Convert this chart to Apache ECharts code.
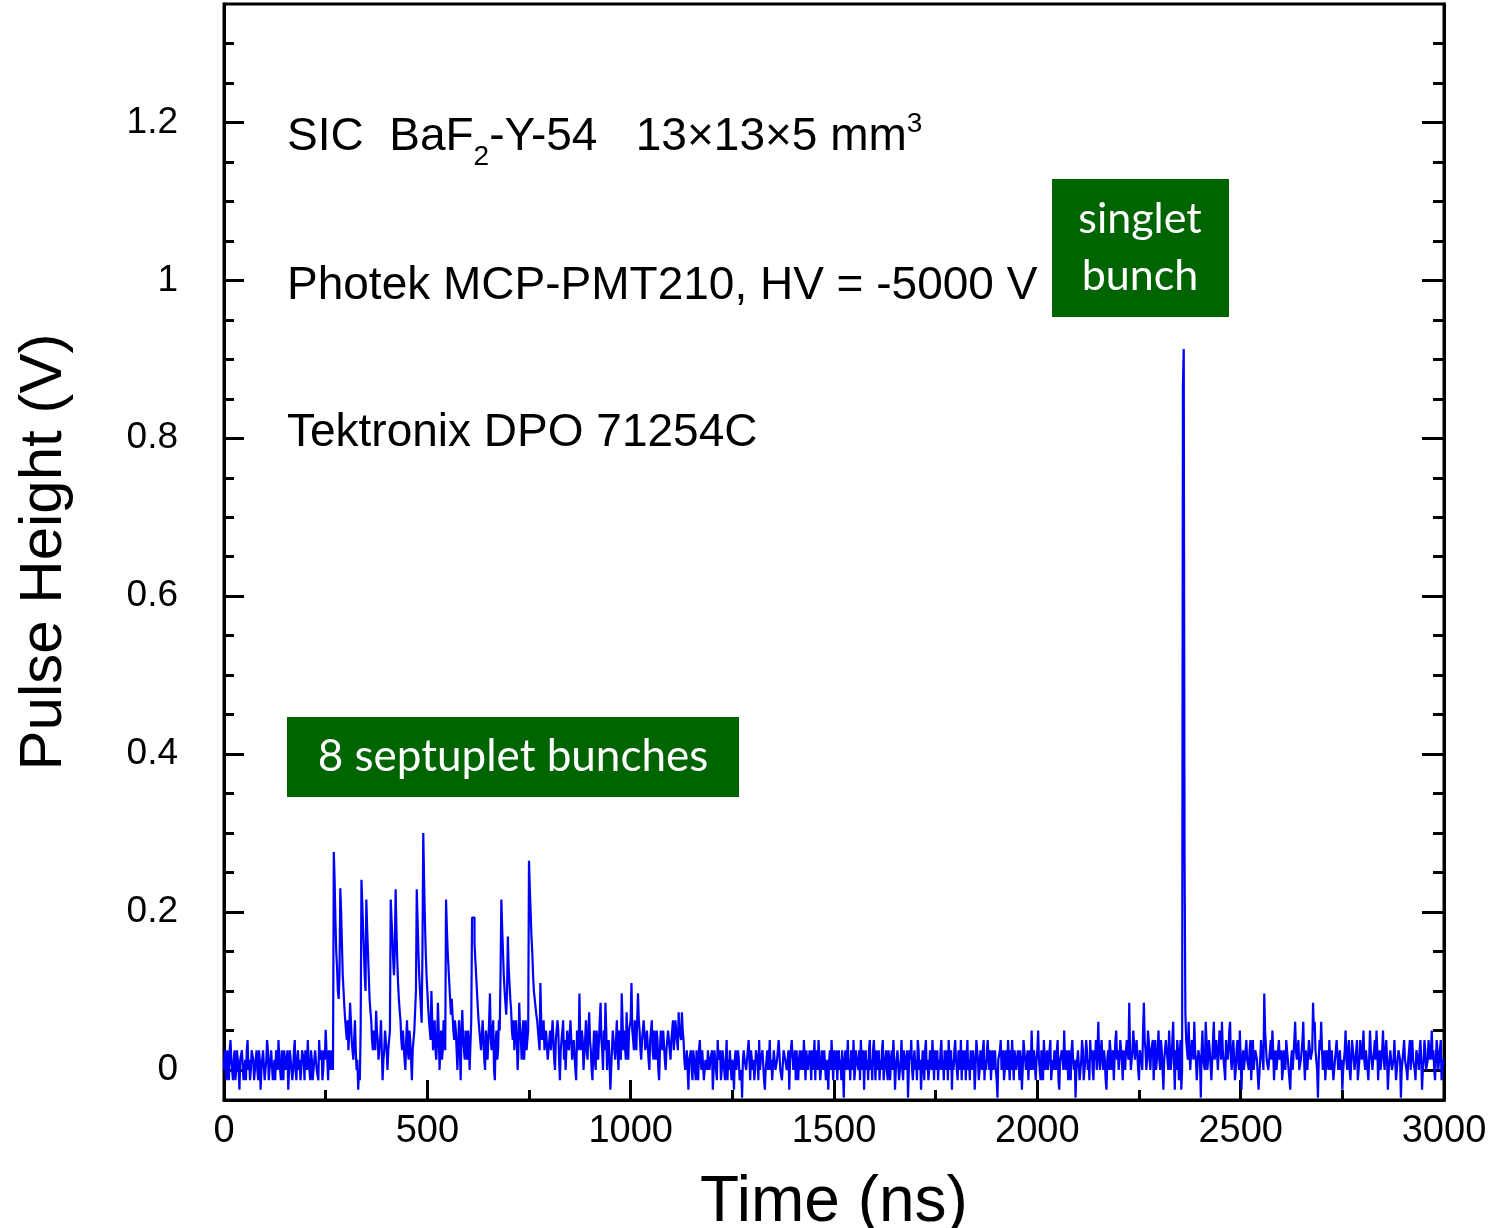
<!DOCTYPE html>
<html><head><meta charset="utf-8">
<script src="https://cdn.jsdelivr.net/npm/echarts@6/dist/echarts.min.js"></script>
<style>html,body{margin:0;padding:0;background:#fff}#chart{width:1507px;height:1228px}</style>
</head><body><div id="chart"></div>
<script>
// Oscilloscope trace, one sample every 2 ns (values in V), rows of 40 ns
const sampleStepNs = 2;
const segmentStartNs = [0, 1000, 2000];
const pulse0to998 = [
0.013,0.000,0.025,0.013,-0.013,0.025,0.000,-0.013,0.025,0.038,0.013,0.000,-0.013,0.013,0.025,-0.013,0.000,0.025,0.013,0.000,
-0.025,0.013,0.013,0.025,0.025,-0.013,0.000,0.013,-0.013,0.025,0.038,0.000,0.013,-0.013,0.000,0.025,0.025,0.013,-0.013,0.000,
0.013,0.025,0.000,-0.013,0.025,0.013,-0.025,0.000,0.013,0.025,0.025,-0.013,0.000,0.013,0.038,0.025,-0.013,0.000,0.013,0.025,
0.025,-0.013,0.000,0.013,-0.013,0.025,0.013,0.000,0.038,0.013,0.000,-0.013,0.025,0.000,-0.013,0.025,0.013,0.000,0.000,0.025,
-0.025,0.000,0.025,0.013,0.013,-0.013,0.000,0.025,0.038,0.000,-0.013,0.013,0.025,0.000,0.013,-0.013,0.000,0.025,0.025,0.013,
-0.013,0.025,0.013,0.000,0.038,0.013,0.000,-0.013,0.025,0.013,-0.013,0.000,0.013,0.025,0.025,0.000,0.000,-0.013,0.038,0.013,
0.013,0.025,-0.013,0.000,0.025,0.013,0.051,0.025,0.013,-0.013,0.025,0.013,0.000,0.025,0.013,0.000,0.276,0.240,0.190,0.150,
0.130,0.100,0.090,0.120,0.230,0.200,0.160,0.120,0.100,0.080,0.063,0.050,0.038,0.063,0.025,0.050,0.085,0.063,0.038,0.025,
0.013,0.038,0.063,0.025,0.000,0.013,-0.025,0.000,-0.013,0.050,0.241,0.210,0.180,0.150,0.120,0.100,0.216,0.180,0.150,0.120,
0.090,0.075,0.063,0.038,0.025,0.050,0.050,0.025,0.075,0.050,0.038,0.013,0.013,0.038,0.063,0.025,-0.013,0.013,0.025,0.050,
0.050,0.025,0.000,0.025,0.025,0.050,0.216,0.190,0.170,0.140,0.120,0.150,0.229,0.180,0.140,0.110,0.090,0.075,0.063,0.038,
0.025,0.050,0.050,0.013,0.000,0.038,0.063,0.025,0.013,0.050,0.038,0.013,-0.013,0.025,0.025,0.050,0.050,0.100,0.229,0.190,
0.150,0.120,0.100,0.080,0.060,0.150,0.300,0.240,0.190,0.150,0.120,0.100,0.080,0.063,0.050,0.038,0.100,0.063,0.025,0.050,
0.063,0.025,0.013,0.038,0.085,0.050,0.000,0.025,0.050,0.013,0.025,0.063,0.063,0.025,0.216,0.180,0.150,0.130,0.110,0.090,
0.070,0.090,0.090,0.050,0.038,0.063,0.050,0.025,0.000,0.038,0.063,0.025,-0.013,0.050,0.076,0.038,0.025,0.013,0.050,0.038,
0.013,0.050,0.038,0.000,0.000,0.063,0.193,0.193,0.193,0.160,0.140,0.120,0.100,0.080,0.063,0.050,0.050,0.025,0.025,0.063,
0.063,0.013,0.000,0.050,0.038,0.013,0.013,0.063,0.097,0.038,0.025,0.050,0.063,0.000,-0.013,0.038,0.050,0.013,0.025,0.063,
0.050,0.120,0.216,0.180,0.150,0.120,0.100,0.085,0.070,0.100,0.169,0.130,0.110,0.090,0.076,0.050,0.038,0.063,0.025,0.050,
0.063,0.038,0.000,0.025,0.085,0.050,0.038,0.013,0.050,0.063,0.013,0.038,0.063,0.025,0.038,0.050,0.265,0.230,0.200,0.170,
0.150,0.120,0.100,0.090,0.080,0.070,0.063,0.050,0.050,0.025,0.110,0.063,0.038,0.050,0.063,0.025,0.025,0.050,0.050,0.013,
0.013,0.038,0.050,0.025,0.025,0.063,0.063,0.013,0.000,0.038,0.038,0.063,0.050,0.013,-0.013,0.025,0.025,0.050,0.063,0.013,
0.038,0.000,0.000,0.050,0.050,0.025,0.025,0.063,0.063,0.013,0.013,0.038,0.038,0.000,-0.013,0.050,0.050,0.025,0.097,0.038,
0.025,0.050,0.038,0.000,0.000,0.038,0.063,0.025,0.013,0.050,0.073,0.038,0.025,0.000,-0.013,0.025,0.050,0.013,0.000,0.050,
0.038,0.013,0.013,0.063,0.085,0.038,0.025,0.000,0.050,0.025,0.085,0.050,0.000,0.025,0.038,0.013,-0.025,0.000,0.025,0.050,
0.050,0.025,0.013,0.038,0.063,0.025,0.000,0.050,0.038,0.013,0.097,0.063,0.025,0.050,0.050,0.013,0.073,0.038,0.013,0.050
];
const pulse1000to1998 = [
0.050,0.063,0.110,0.050,0.038,0.025,0.063,0.050,0.025,0.063,0.097,0.063,0.050,0.025,0.013,0.038,0.038,0.063,0.063,0.025,
0.025,0.050,0.050,0.013,0.000,0.038,0.038,0.063,0.025,0.013,0.050,0.025,0.013,0.050,0.038,0.000,-0.013,0.025,0.050,0.038,
0.025,0.050,0.050,0.013,0.000,0.025,0.038,0.050,0.050,0.025,0.013,0.038,0.050,0.063,0.025,0.038,0.063,0.050,0.038,0.025,
0.073,0.050,0.050,0.038,0.073,0.050,0.038,0.013,0.000,0.013,0.025,0.000,-0.025,0.013,0.013,0.025,0.000,-0.013,0.025,0.013,
0.013,-0.013,0.025,0.000,-0.013,0.025,0.038,0.013,0.000,0.025,0.025,-0.013,-0.013,0.013,0.013,0.000,0.025,0.025,0.000,0.013,
0.013,0.025,-0.025,0.000,0.025,0.013,0.000,-0.013,0.038,0.013,0.013,0.025,-0.013,0.000,0.025,0.025,0.000,-0.013,0.013,0.038,
-0.013,0.013,0.000,0.025,0.025,-0.013,0.013,0.000,-0.025,0.013,0.025,0.000,0.000,0.025,0.013,-0.013,-0.013,0.000,-0.035,0.013,
0.025,0.013,0.013,0.000,0.000,0.025,0.038,0.013,-0.013,0.025,0.025,0.000,0.013,-0.013,0.000,0.025,0.025,0.013,-0.013,0.038,
0.000,0.013,0.013,0.025,0.025,-0.013,-0.025,0.000,0.013,0.025,0.000,0.013,0.038,0.000,0.013,-0.013,-0.013,0.025,0.025,0.000,
0.000,0.013,0.013,0.038,0.038,0.000,0.000,-0.013,-0.013,0.025,0.025,0.013,0.013,0.000,0.000,0.025,-0.025,0.013,0.013,0.038,
0.038,0.000,0.013,0.025,-0.013,0.025,0.000,-0.013,0.013,0.025,0.000,0.013,0.025,0.000,0.038,0.013,-0.013,0.025,0.013,0.000,
0.000,0.025,0.013,-0.013,0.025,0.000,0.013,0.038,-0.013,0.025,0.013,0.000,0.038,0.013,-0.013,0.000,0.025,0.013,0.000,0.025,
0.025,-0.013,0.013,0.000,-0.025,0.013,0.025,0.000,0.038,0.013,-0.013,0.025,0.013,0.000,0.025,-0.013,0.013,0.025,0.000,0.013,
-0.013,0.025,0.000,-0.035,0.013,0.025,0.000,0.013,0.038,0.000,0.013,-0.013,0.025,0.013,0.000,0.038,-0.013,0.000,0.025,0.013,
0.013,0.000,0.025,-0.013,0.038,0.013,0.000,0.025,-0.025,0.013,0.025,0.000,0.013,-0.013,0.025,0.038,0.000,0.013,-0.013,0.025,
0.038,0.013,-0.013,0.025,0.000,0.013,0.025,-0.013,0.013,0.000,0.025,0.038,-0.013,0.000,0.013,0.025,0.000,-0.013,0.025,0.013,
-0.013,0.013,0.025,0.000,0.038,0.013,-0.025,0.000,0.013,0.025,0.025,-0.013,0.000,0.013,0.038,0.000,-0.013,0.025,0.013,0.000,
0.013,0.025,-0.035,0.000,0.025,0.013,0.038,0.000,-0.013,0.013,0.025,0.000,0.013,-0.013,0.038,0.025,0.000,0.013,-0.025,0.000,
0.025,0.013,-0.013,0.025,0.038,0.000,0.013,-0.013,0.000,0.025,0.013,0.000,0.038,0.013,-0.013,0.025,0.000,0.013,0.025,-0.013,
0.013,0.000,0.025,0.038,0.000,0.013,-0.013,0.025,0.013,0.000,0.025,-0.013,0.038,0.013,0.000,0.025,-0.025,0.013,0.000,0.025,
0.038,0.013,0.000,-0.013,0.025,0.013,0.000,0.038,-0.013,0.025,0.013,0.000,0.025,-0.013,0.013,0.038,0.000,0.013,-0.013,0.025,
0.013,0.000,0.025,0.013,-0.025,0.000,0.038,0.025,0.013,-0.013,0.000,0.025,0.013,0.000,0.025,0.038,-0.013,0.013,0.000,0.025,
0.038,0.013,0.000,0.025,-0.013,0.013,0.025,0.000,0.013,0.025,0.000,-0.013,-0.035,0.013,0.013,0.025,0.038,0.000,0.013,0.025,
-0.013,0.000,0.025,0.013,0.000,0.038,0.013,-0.013,0.025,0.000,0.038,0.013,-0.013,0.025,0.013,0.000,0.000,0.025,0.013,-0.013,
0.025,0.013,-0.025,0.000,0.038,0.025,0.013,0.000,0.000,0.025,-0.013,0.013,0.025,0.000,0.050,0.013,0.000,0.025,0.025,-0.013
];
const pulse2000to3000 = [
0.013,0.025,0.050,0.013,0.000,-0.013,0.025,0.000,-0.013,0.038,0.038,0.000,0.013,0.025,0.000,0.013,0.025,0.038,-0.013,0.000,
0.013,0.000,0.025,0.013,0.000,0.025,0.038,-0.013,-0.025,0.013,0.013,0.025,0.025,0.000,0.050,0.013,0.000,0.025,0.013,-0.013,
0.025,0.000,-0.013,0.025,0.038,0.013,0.000,0.013,-0.035,0.000,0.013,0.025,0.025,-0.013,0.000,0.013,0.038,0.025,-0.013,0.000,
0.013,0.038,0.025,0.000,0.013,-0.013,0.038,0.013,0.025,0.000,-0.013,0.025,0.013,0.038,0.000,0.025,0.061,0.013,0.000,0.025,
0.038,0.013,0.000,0.025,0.013,-0.013,-0.025,0.013,0.025,0.000,0.038,0.025,0.000,0.013,0.025,-0.013,0.013,0.038,0.050,0.013,
0.025,0.000,0.013,0.038,0.038,0.013,-0.013,0.025,0.013,0.000,0.025,0.038,0.038,0.013,0.085,0.025,0.000,0.013,0.025,0.050,
0.050,0.013,0.013,0.038,0.038,0.000,-0.013,0.025,0.025,0.013,0.000,0.050,0.085,0.038,0.025,0.000,0.013,0.050,0.038,0.013,
0.000,0.025,0.025,0.038,-0.013,0.013,0.038,0.000,0.013,0.025,0.050,0.013,0.000,0.038,0.025,0.000,-0.025,0.013,0.013,0.038,
0.038,0.013,0.000,0.050,0.025,0.000,0.013,0.038,0.061,0.013,-0.025,0.025,0.000,0.038,0.025,-0.013,0.013,0.038,-0.025,0.000,
0.867,0.913,0.270,0.073,0.038,0.025,0.013,0.061,0.025,0.000,0.000,0.038,0.038,0.013,0.061,0.025,0.013,-0.013,-0.013,0.025,
0.025,0.013,-0.035,0.025,0.050,0.013,0.013,0.000,0.061,0.038,0.000,0.013,0.038,0.025,0.025,-0.013,-0.013,0.038,0.061,0.013,
0.013,0.038,0.038,0.000,0.000,0.050,0.050,0.013,0.061,0.025,0.013,0.000,-0.013,0.038,0.038,0.013,0.025,0.050,0.061,0.013,
0.000,0.025,0.038,0.013,-0.013,0.000,0.025,0.038,0.013,0.000,0.050,0.013,-0.025,0.013,0.025,0.000,0.000,0.025,0.038,0.013,
0.013,0.000,0.025,0.038,-0.013,0.013,0.038,0.000,0.000,0.025,0.025,0.013,0.013,-0.025,-0.025,0.013,0.038,0.025,0.013,0.000,
0.097,0.050,0.050,0.013,0.013,0.000,0.000,0.025,0.038,0.013,0.050,0.025,-0.013,0.013,0.025,0.000,0.000,0.025,0.038,0.013,
0.013,0.025,-0.013,0.000,0.025,0.013,0.000,0.038,0.038,0.013,0.013,-0.013,-0.025,0.013,0.025,0.000,0.000,0.038,0.061,0.025,
0.013,0.025,0.038,0.000,0.000,0.013,0.025,0.038,0.061,0.013,-0.013,0.025,0.025,0.000,0.000,0.038,0.038,0.013,0.013,0.025,
0.085,0.050,0.061,0.025,0.025,0.000,-0.035,0.013,0.038,0.025,0.061,0.025,0.000,0.013,0.025,-0.013,-0.013,0.025,0.013,0.000,
0.038,0.013,0.000,0.025,0.025,-0.013,-0.013,0.013,0.013,0.038,0.038,0.000,0.013,0.025,0.000,0.013,-0.025,0.000,0.013,0.025,
0.050,0.013,0.000,0.025,0.038,0.000,-0.013,0.013,0.038,0.025,0.013,0.000,0.000,0.025,0.038,-0.013,-0.013,0.013,0.038,0.025,
0.013,0.025,0.050,0.013,0.000,0.025,0.025,0.000,-0.013,0.013,0.050,0.025,0.013,0.000,0.000,0.025,0.038,0.013,0.050,0.025,
-0.013,0.013,0.025,0.000,0.013,0.025,0.050,0.013,0.000,0.025,0.038,0.013,-0.025,0.000,0.013,0.025,0.025,0.000,0.000,0.013,
0.038,0.013,-0.013,0.000,0.013,0.025,0.025,0.013,-0.035,0.000,0.000,0.025,0.038,0.013,0.013,0.000,-0.013,0.013,0.025,0.038,
0.000,0.025,0.038,0.013,0.013,0.000,-0.013,0.025,0.025,0.013,0.000,0.025,0.038,0.013,-0.025,0.000,0.013,0.038,0.025,0.000,
0.000,0.013,0.038,0.025,0.013,0.025,0.050,0.013,0.025,0.000,-0.013,0.013,0.038,0.025,0.000,0.013,0.025,0.038,-0.013,0.000,
0.013
];

// Axes
const xMin = 0, xMax = 3000, xInterval = 500;
const yMin = -0.038, yMax = 1.35;
const yMajorTicks = [0, 0.2, 0.4, 0.6, 0.8, 1, 1.2];
const yMinorTicks = [0.05,0.1,0.15,0.25,0.3,0.35,0.45,0.5,0.55,0.65,0.7,0.75,0.85,0.9,0.95,1.05,1.1,1.15,1.25,1.3];

// Texts
const xTitle = 'Time (ns)';
const yTitle = 'Pulse Height (V)';
const note1 = 'SIC  BaF{sub|2}-Y-54   13×13×5 mm{sup|3}';
const note2 = 'Photek MCP-PMT210, HV = -5000 V';
const note3 = 'Tektronix DPO 71254C';
const boxSeptuplet = '8 septuplet bunches';
const boxSinglet = 'singlet\nbunch';

const segments = [pulse0to998, pulse1000to1998, pulse2000to3000];
const traceData = [];
segments.forEach((seg, s) => seg.forEach((v, i) => traceData.push([segmentStartNs[s] + i * sampleStepNs, v])));

const AX_FONT = "'Liberation Sans',Arial,sans-serif";
const BOX_FONT = "Lato,'Open Sans',sans-serif";

function yAx(pos, ticks, len, showLabel, withName) {
  const a = {
    type: 'value', position: pos, min: yMin, max: yMax,
    axisLine: { show: true, onZero: false, lineStyle: { color: '#000', width: 3 } },
    axisTick: { show: true, inside: true, length: len, customValues: ticks, lineStyle: { color: '#000', width: 3 } },
    axisLabel: { show: showLabel, customValues: ticks, margin: 46, fontSize: 37, color: '#000', fontFamily: AX_FONT,
      formatter: v => String(v) },
    splitLine: { show: false }
  };
  if (withName) {
    Object.assign(a, { name: yTitle, nameLocation: 'middle', nameGap: 150, nameRotate: 90,
      nameTextStyle: { fontSize: 60, color: '#000', fontFamily: AX_FONT } });
  }
  return a;
}

const chart = echarts.init(document.getElementById('chart'), null, { renderer: 'canvas' });
chart.setOption({
  animation: false,
  backgroundColor: '#fff',
  grid: { left: 224, right: 63, top: 4, bottom: 128, containLabel: false, outerBoundsMode: 'none',
    show: true, borderColor: '#000', borderWidth: 3, backgroundColor: 'transparent' },
  xAxis: {
    type: 'value', min: xMin, max: xMax, interval: xInterval, position: 'bottom',
    axisLine: { show: true, onZero: false, lineStyle: { color: '#000', width: 3 } },
    axisTick: { show: true, inside: true, length: 20, lineStyle: { color: '#000', width: 3 } },
    minorTick: { show: true, splitNumber: 2, length: 10, lineStyle: { color: '#000', width: 3 } },
    axisLabel: { margin: 13, fontSize: 38, color: '#000', fontFamily: AX_FONT, formatter: v => String(v) },
    splitLine: { show: false },
    name: xTitle, nameLocation: 'middle', nameGap: 71,
    nameTextStyle: { fontSize: 64, color: '#000', fontFamily: AX_FONT }
  },
  yAxis: [
    yAx('left', yMajorTicks, 20, true, true),
    yAx('left', yMinorTicks, 10, false, false),
    yAx('right', yMajorTicks, 22, false, false),
    yAx('right', yMinorTicks, 11, false, false)
  ],
  series: [{
    type: 'line', data: traceData, yAxisIndex: 0, showSymbol: false, step: 'start',
    sampling: false, lineStyle: { color: '#0000ff', width: 2.2 }, z: 1
  }],
  graphic: [
    { type: 'text', x: 287, y: 137, style: { text: note1, fill: '#000', fontSize: 46, fontFamily: AX_FONT, verticalAlign: 'middle',
      rich: { sub: { fontSize: 28, fontFamily: AX_FONT, padding: [40, 0, 0, 0] }, sup: { fontSize: 28, fontFamily: AX_FONT, padding: [0, 0, 26, 0] } } } },
    { type: 'text', x: 287, y: 286, style: { text: note2, fill: '#000', fontSize: 46, fontFamily: AX_FONT, verticalAlign: 'middle' } },
    { type: 'text', x: 287, y: 433, style: { text: note3, fill: '#000', fontSize: 46, fontFamily: AX_FONT, verticalAlign: 'middle' } },
    { type: 'rect', shape: { x: 287, y: 717, width: 452, height: 80 }, style: { fill: '#006400' } },
    { type: 'text', x: 513, y: 757, style: { text: boxSeptuplet, fill: '#fff', fontSize: 44, fontFamily: BOX_FONT, align: 'center', verticalAlign: 'middle' } },
    { type: 'rect', shape: { x: 1052, y: 179, width: 177, height: 138 }, style: { fill: '#006400' } },
    { type: 'text', x: 1140, y: 248, style: { text: boxSinglet, fill: '#fff', fontSize: 43, lineHeight: 57, fontFamily: BOX_FONT, align: 'center', verticalAlign: 'middle' } }
  ]
});
</script></body></html>
